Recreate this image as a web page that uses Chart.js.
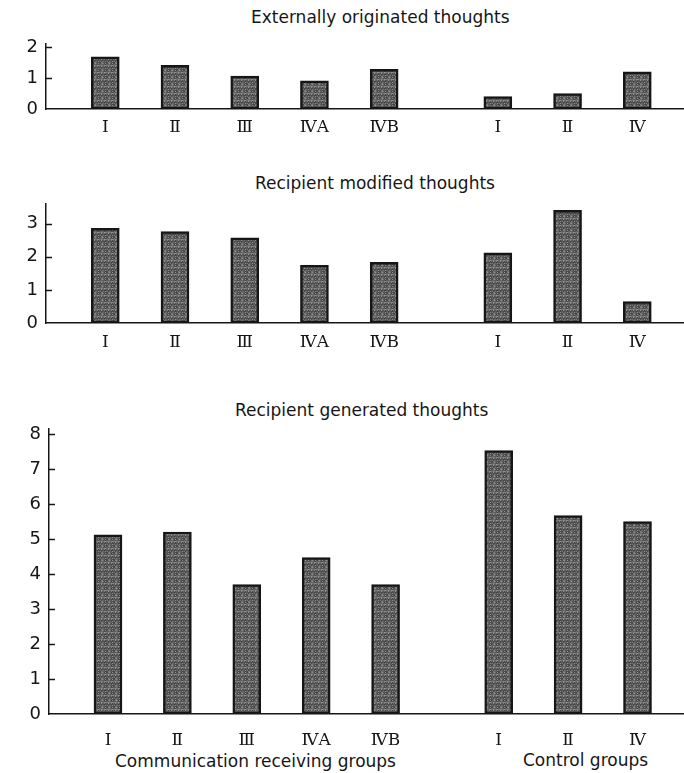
<!DOCTYPE html>
<html>
<head>
<meta charset="utf-8">
<script src="https://cdn.jsdelivr.net/npm/chart.js@4.4.0/dist/chart.umd.min.js"></script>
<style>
  html, body { margin: 0; padding: 0; background: #fff; }
  body { width: 684px; height: 773px; position: relative; overflow: hidden; font-family: "DejaVu Sans", sans-serif; color: #161616; }
  canvas { position: absolute; left: 0; }
  .txt { position: absolute; white-space: nowrap; font-size: 17px; line-height: 20px; }
</style>
</head>
<body>
<div class="txt" id="title0" style="left:251px; top:7px;"></div>
<div class="txt" id="title1" style="left:255px; top:173px;"></div>
<div class="txt" id="title2" style="left:235px; top:400px;"></div>
<div class="txt" id="group0" style="left:115px; top:751px;"></div>
<div class="txt" id="group1" style="left:523px; top:750px;"></div>

<canvas id="panel0" width="684" height="115" style="top:25px;"></canvas>
<canvas id="panel1" width="684" height="170" style="top:185px;"></canvas>
<canvas id="panel2" width="684" height="340" style="top:410px;"></canvas>

<script>
// groups along the x axis
const commGroups = ['Ⅰ', 'Ⅱ', 'Ⅲ', 'ⅣA', 'ⅣB'];
const controlGroups = ['Ⅰ', 'Ⅱ', 'Ⅳ'];
const groupNames = ['Communication receiving groups', 'Control groups'];

const panelTitles = ['Externally originated thoughts', 'Recipient modified thoughts', 'Recipient generated thoughts'];

// mean number of thoughts, comm groups first then control groups
const externalValues = [1.68, 1.41, 1.06, 0.91, 1.28, 0.40, 0.50, 1.20];
const modifiedValues = [2.86, 2.76, 2.57, 1.74, 1.83, 2.12, 3.40, 0.65];
const generatedValues = [5.12, 5.20, 3.70, 4.47, 3.70, 7.53, 5.67, 5.50];

const yTicks0 = [0, 1, 2];
const yTicks1 = [0, 1, 2, 3];
const yTicks2 = [0, 1, 2, 3, 4, 5, 6, 7, 8];

// layout
const GROUP_GAP = 0.63;   // extra space between the two blocks of bars
const INK = '#161616';

const labels = commGroups.concat(controlGroups);
const xSlots = commGroups.map((_, i) => i)
    .concat(controlGroups.map((_, j) => commGroups.length + GROUP_GAP + j));

panelTitles.forEach((t, i) => document.getElementById('title' + i).textContent = t);
groupNames.forEach((t, i) => document.getElementById('group' + i).textContent = t);

function stipple() {
    const c = document.createElement('canvas');
    c.width = 7; c.height = 7;
    const g = c.getContext('2d');
    const shades = ['#474747', '#787878', '#5a5a5a', '#909090', '#4f4f4f', '#686868'];
    for (let y = 0; y < 7; y++) {
        for (let x = 0; x < 7; x++) {
            g.fillStyle = shades[(x * 4 + y * 3 + (x * y) % 5) % shades.length];
            g.fillRect(x, y, 1, 1);
        }
    }
    return g.createPattern(c, 'repeat');
}

// short tick marks on the inner side of the y axis
const innerTicks = {
    id: 'innerTicks',
    afterDraw(chart) {
        const ys = chart.scales.y;
        const ctx = chart.ctx;
        const left = chart.chartArea.left;
        ctx.save();
        ctx.strokeStyle = INK;
        ctx.lineWidth = 1.5;
        ys.ticks.forEach(t => {
            if (t.value === 0) return;
            const py = Math.round(ys.getPixelForValue(t.value)) + 0.5;
            ctx.beginPath();
            ctx.moveTo(left, py);
            ctx.lineTo(left + 6, py);
            ctx.stroke();
        });
        ctx.restore();
    }
};

function makePanel(id, values, yTicks, yMax, cfg) {
    const ctx = document.getElementById(id).getContext('2d');
    return new Chart(ctx, {
        type: 'bar',
        data: {
            datasets: [{
                data: values.map((v, i) => ({ x: xSlots[i], y: v })),
                backgroundColor: stipple(),
                borderColor: INK,
                borderWidth: 2.5,
                borderSkipped: false,
                barThickness: 28
            }]
        },
        options: {
            responsive: false,
            animation: false,
            layout: { padding: { top: cfg.padTop, right: 0, left: 0, bottom: 0 } },
            plugins: { legend: { display: false }, tooltip: { enabled: false }, title: { display: false } },
            scales: {
                x: {
                    type: 'linear',
                    offset: false,
                    min: -0.85,
                    max: 8.3,
                    afterFit: s => { s.height = cfg.xHeight; },
                    afterBuildTicks: s => { s.ticks = xSlots.map(v => ({ value: v })); },
                    grid: { display: false, drawTicks: false },
                    border: { color: INK, width: 1.5 },
                    ticks: {
                        autoSkip: false,
                        maxRotation: 0,
                        padding: cfg.labelPad,
                        color: INK,
                        font: { family: 'DejaVu Serif', size: 17 },
                        callback: (value, index) => labels[index]
                    }
                },
                y: {
                    min: 0,
                    max: yMax,
                    afterFit: s => { s.width = cfg.left; },
                    afterBuildTicks: s => { s.ticks = yTicks.map(v => ({ value: v })); },
                    grid: { display: false, drawTicks: false },
                    border: { color: INK, width: 1.5 },
                    ticks: {
                        padding: 8,
                        color: INK,
                        font: { family: 'DejaVu Sans', size: 18 },
                        callback: v => String(v)
                    }
                }
            }
        },
        plugins: [innerTicks]
    });
}

makePanel('panel0', externalValues, yTicks0, 2.1, { padTop: 10, xHeight: 31, labelPad: 8, left: 46 });
makePanel('panel1', modifiedValues, yTicks1, 3.6, { padTop: 8, xHeight: 32, labelPad: 9, left: 46 });
makePanel('panel2', generatedValues, yTicks2, 8.15, { padTop: 8, xHeight: 36, labelPad: 16, left: 49 });
</script>
</body>
</html>
